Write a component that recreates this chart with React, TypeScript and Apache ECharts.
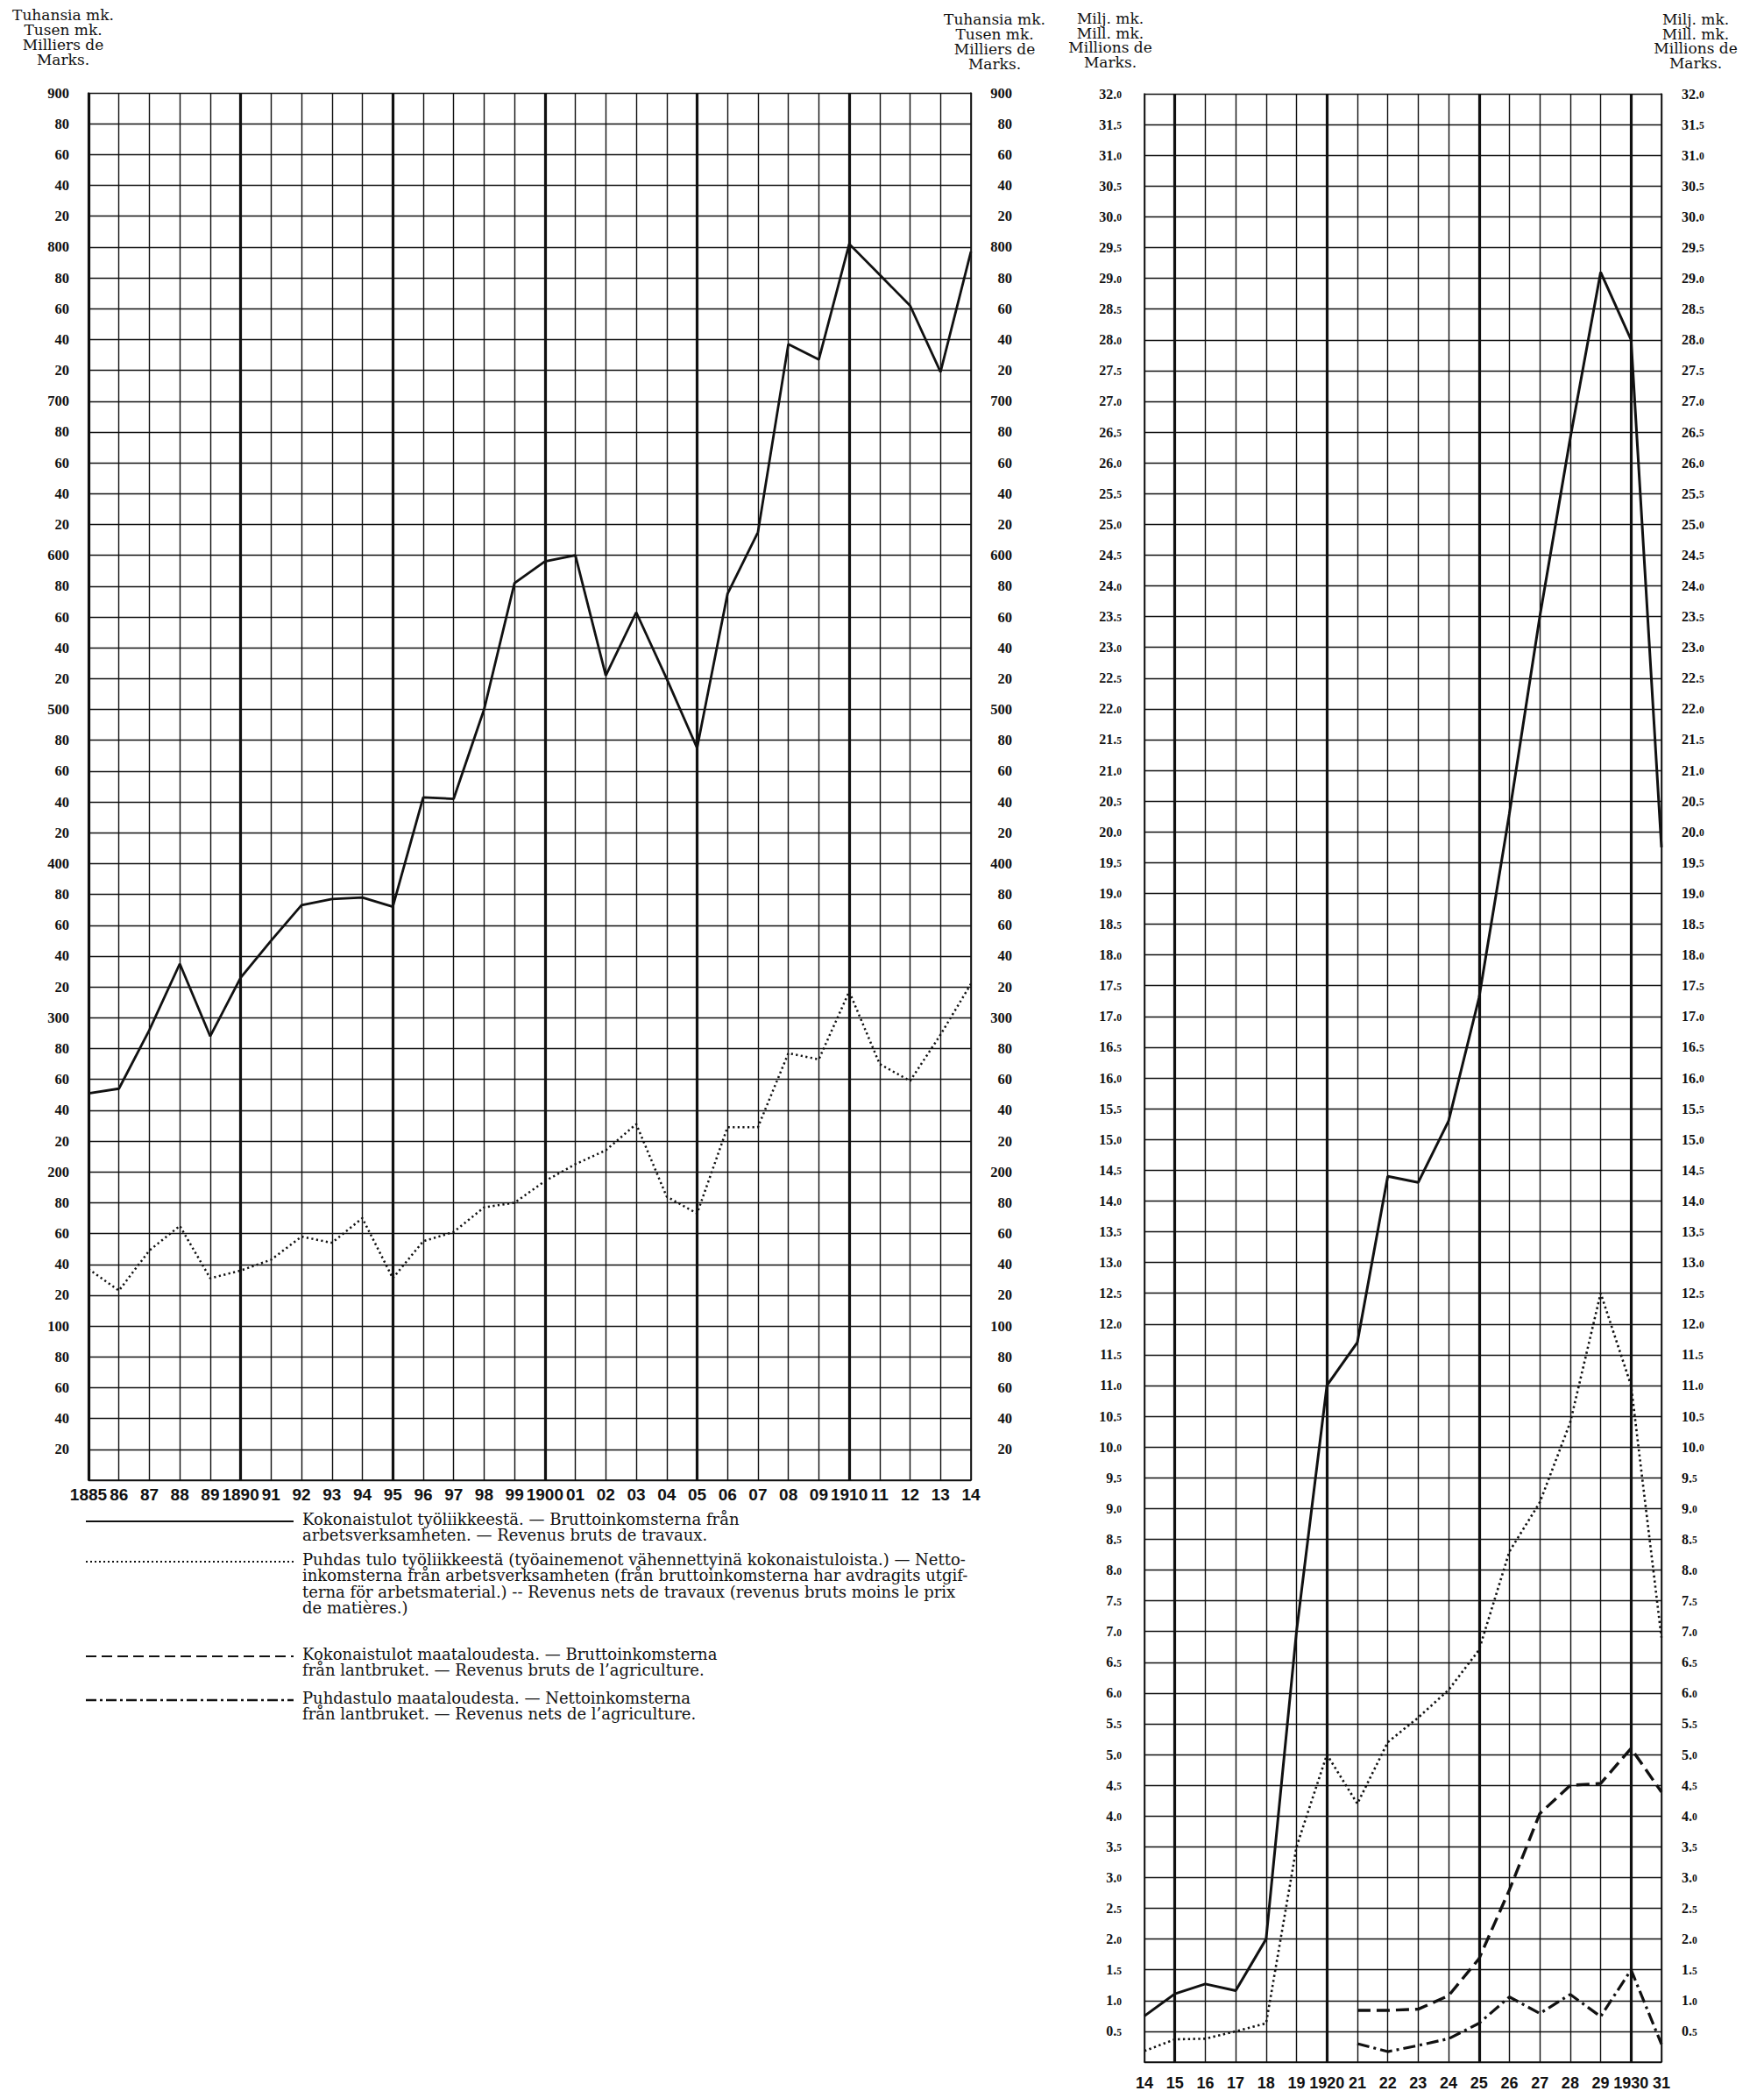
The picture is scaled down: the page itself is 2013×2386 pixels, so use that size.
import React, { useEffect, useRef } from 'react';
import * as echarts from 'echarts';

// ---------- data ----------
const leftYears = [1885, 1886, 1887, 1888, 1889, 1890, 1891, 1892, 1893, 1894, 1895, 1896, 1897, 1898, 1899, 1900, 1901, 1902, 1903, 1904, 1905, 1906, 1907, 1908, 1909, 1910, 1911, 1912, 1913, 1914];
const leftXLabels = ['1885', '86', '87', '88', '89', '1890', '91', '92', '93', '94', '95', '96', '97', '98', '99', '1900', '01', '02', '03', '04', '05', '06', '07', '08', '09', '1910', '11', '12', '13', '14'];
// thousands of marks
const grossWorkLeft = [251, 254, 292, 335, 288, 326, 350, 373, 377, 378, 372, 443, 442, 500, 582, 596, 600, 522, 563, 520, 475, 575, 615, 737, 727, 802, 782, 762, 719, 797];
const netWorkLeft = [137, 123, 149, 165, 131, 136, 143, 158, 154, 170, 131, 155, 161, 177, 180, 194, 205, 214, 231, 184, 173, 229, 229, 277, 273, 317, 270, 259, 289, 322];

const rightYears = [1914, 1915, 1916, 1917, 1918, 1919, 1920, 1921, 1922, 1923, 1924, 1925, 1926, 1927, 1928, 1929, 1930, 1931];
const rightXLabels = ['14', '15', '16', '17', '18', '19', '1920', '21', '22', '23', '24', '25', '26', '27', '28', '29', '1930', '31'];
// millions of marks
const grossWorkRight = [0.75, 1.11, 1.27, 1.16, 2.0, 7.0, 11.0, 11.7, 14.4, 14.3, 15.3, 17.3, 20.3, 23.5, 26.4, 29.1, 28.0, 19.75];
const netWorkRight = [0.18, 0.37, 0.38, 0.5, 0.63, 3.5, 5.0, 4.2, 5.2, 5.6, 6.05, 6.7, 8.3, 9.1, 10.4, 12.5, 11.0, 6.9];
const agriYears = [1921, 1922, 1923, 1924, 1925, 1926, 1927, 1928, 1929, 1930, 1931];
const grossAgri = [0.84, 0.84, 0.86, 1.08, 1.68, 2.8, 4.04, 4.5, 4.53, 5.1, 4.39];
const netAgri = [0.3, 0.17, 0.27, 0.38, 0.63, 1.06, 0.79, 1.1, 0.74, 1.5, 0.29];

const thickLeft = [1885, 1890, 1895, 1900, 1905, 1910];
const thickRight = [1915, 1920, 1925, 1930];

const unitLeft = 'Tuhansia mk.\nTusen mk.\nMilliers de\nMarks.';
const unitRight = 'Milj. mk.\nMill. mk.\nMillions de\nMarks.';

const legendTexts = [
  'Kokonaistulot työliikkeestä. — Bruttoinkomsterna från\narbetsverksamheten. — Revenus bruts de travaux.',
  'Puhdas tulo työliikkeestä (työainemenot vähennettyinä kokonaistuloista.) — Netto-\ninkomsterna från arbetsverksamheten (från bruttoinkomsterna har avdragits utgif-\nterna för arbetsmaterial.) -- Revenus nets de travaux (revenus bruts moins le prix\nde matières.)',
  'Kokonaistulot maataloudesta. — Bruttoinkomsterna\nfrån lantbruket. — Revenus bruts de l’agriculture.',
  'Puhdastulo maataloudesta. — Nettoinkomsterna\nfrån lantbruket. — Revenus nets de l’agriculture.',
];

// ---------- styles ----------
const INK = '#111';
const SERIF = '"DejaVu Serif", "Liberation Serif", serif';
const LBLSERIF = '"Liberation Serif", "DejaVu Serif", serif';
const NARROW = '"Liberation Sans Narrow", "Liberation Sans", sans-serif';

const pairs = (xs: number[], ys: number[]) => xs.map((x, i) => [x, ys[i]]);

const leftY = (v: number) => (v === 0 ? '' : v % 100 === 0 ? String(v) : String(v % 100));
const rightY = (v: number) => {
  if (v === 0) return '';
  const t = Math.round(v * 10);
  return `{a|${Math.floor(t / 10)}.}{b|${t % 10}}`;
};

export default function App() {
  const ref = useRef<HTMLDivElement>(null);
  useEffect(() => {
    document.body.style.margin = '0';
    const chart = echarts.init(ref.current!, undefined, { renderer: 'svg' });

    const gridLine = { show: true, lineStyle: { color: INK, width: 1.4 } };
    const axisLine = { show: true, lineStyle: { color: INK, width: 1.6 } };
    const richR = {
      a: { fontFamily: LBLSERIF, fontWeight: 'bold', fontSize: 16, color: INK },
      b: { fontFamily: LBLSERIF, fontWeight: 'bold', fontSize: 11.5, color: INK, verticalAlign: 'bottom', padding: [0, 0, 1, 0] },
    };
    const thick = (xs: number[]) => ({
      silent: true,
      symbol: ['none', 'none'],
      label: { show: false },
      emphasis: { disabled: true },
      lineStyle: { color: INK, width: 3.2, type: 'solid' },
      data: xs.map((x) => ({ xAxis: x })),
    });

    const legendFont = `18px ${SERIF}`;
    const option: any = {
      animation: false,
      backgroundColor: '#fff',
      grid: [
        { left: 101, top: 106, width: 1007, height: 1583 },
        { left: 1306, top: 107, width: 590, height: 2250 },
      ],
      xAxis: [
        {
          gridIndex: 0, type: 'value', min: 1885, max: 1914, interval: 1,
          axisLine, axisTick: { show: false }, splitLine: gridLine,
          axisLabel: {
            margin: 7, color: INK, fontFamily: NARROW, fontWeight: 'bold', fontSize: 19,
            formatter: (v: number) => leftXLabels[leftYears.indexOf(v)] ?? '',
          },
        },
        {
          gridIndex: 1, type: 'value', min: 1914, max: 1931, interval: 1,
          axisLine, axisTick: { show: false }, splitLine: gridLine,
          axisLabel: {
            margin: 15, color: INK, fontFamily: NARROW, fontWeight: 'bold', fontSize: 18,
            formatter: (v: number) => rightXLabels[rightYears.indexOf(v)] ?? '',
          },
        },
      ],
      yAxis: [
        {
          gridIndex: 0, type: 'value', position: 'left', min: 0, max: 900, interval: 20,
          axisLine, axisTick: { show: false }, splitLine: gridLine,
          axisLabel: { margin: 22, color: INK, fontFamily: LBLSERIF, fontWeight: 'bold', fontSize: 16.5, formatter: leftY },
        },
        {
          gridIndex: 0, type: 'value', position: 'right', min: 0, max: 900, interval: 20,
          axisLine, axisTick: { show: false }, splitLine: { show: false },
          axisLabel: { margin: 47, align: 'right', color: INK, fontFamily: LBLSERIF, fontWeight: 'bold', fontSize: 16.5, formatter: leftY },
        },
        {
          gridIndex: 1, type: 'value', position: 'left', min: 0, max: 32, interval: 0.5,
          axisLine, axisTick: { show: false }, splitLine: gridLine,
          axisLabel: { margin: 26, formatter: rightY, rich: richR },
        },
        {
          gridIndex: 1, type: 'value', position: 'right', min: 0, max: 32, interval: 0.5,
          axisLine, axisTick: { show: false }, splitLine: { show: false },
          axisLabel: { margin: 23, formatter: rightY, rich: richR },
        },
      ],
      series: [
        {
          type: 'line', xAxisIndex: 0, yAxisIndex: 0, data: pairs(leftYears, grossWorkLeft),
          symbol: 'none', lineStyle: { color: INK, width: 2.8 }, markLine: thick(thickLeft), z: 5,
        },
        {
          type: 'line', xAxisIndex: 0, yAxisIndex: 0, data: pairs(leftYears, netWorkLeft),
          symbol: 'none', lineStyle: { color: INK, width: 2.5, type: [2.2, 3.4] }, z: 5,
        },
        {
          type: 'line', xAxisIndex: 1, yAxisIndex: 2, data: pairs(rightYears, grossWorkRight),
          symbol: 'none', lineStyle: { color: INK, width: 3 }, markLine: thick(thickRight), z: 5,
        },
        {
          type: 'line', xAxisIndex: 1, yAxisIndex: 2, data: pairs(rightYears, netWorkRight),
          symbol: 'none', lineStyle: { color: INK, width: 2.6, type: [2.4, 3.4] }, z: 5,
        },
        {
          type: 'line', xAxisIndex: 1, yAxisIndex: 2, data: pairs(agriYears, grossAgri),
          symbol: 'none', lineStyle: { color: INK, width: 3.4, type: [15, 7] }, z: 5,
        },
        {
          type: 'line', xAxisIndex: 1, yAxisIndex: 2, data: pairs(agriYears, netAgri),
          symbol: 'none', lineStyle: { color: INK, width: 3.2, type: [14, 5, 3, 5] }, z: 5,
        },
      ],
      graphic: [
        { type: 'text', x: 72, y: 8, style: { text: unitLeft, fill: INK, font: `17px ${SERIF}`, textAlign: 'center', lineHeight: 17 } },
        { type: 'text', x: 1135, y: 13, style: { text: unitLeft, fill: INK, font: `17px ${SERIF}`, textAlign: 'center', lineHeight: 17 } },
        { type: 'text', x: 1267, y: 13, style: { text: unitRight, fill: INK, font: `17px ${SERIF}`, textAlign: 'center', lineHeight: 16.5 } },
        { type: 'text', x: 1935, y: 14, style: { text: unitRight, fill: INK, font: `17px ${SERIF}`, textAlign: 'center', lineHeight: 16.5 } },
        // legend samples
        { type: 'line', shape: { x1: 98, y1: 1736, x2: 335, y2: 1736 }, style: { stroke: INK, lineWidth: 2.2 } },
        { type: 'line', shape: { x1: 98, y1: 1782, x2: 335, y2: 1782 }, style: { stroke: INK, lineWidth: 2, lineDash: [2, 3] } },
        { type: 'line', shape: { x1: 98, y1: 1890, x2: 335, y2: 1890 }, style: { stroke: INK, lineWidth: 2.2, lineDash: [12, 6] } },
        { type: 'line', shape: { x1: 98, y1: 1940, x2: 335, y2: 1940 }, style: { stroke: INK, lineWidth: 2.4, lineDash: [12, 4, 3, 4] } },
        // legend texts
        { type: 'text', x: 345, y: 1724, style: { text: legendTexts[0], fill: INK, font: legendFont, lineHeight: 18.5 } },
        { type: 'text', x: 345, y: 1770, style: { text: legendTexts[1], fill: INK, font: legendFont, lineHeight: 18.5 } },
        { type: 'text', x: 345, y: 1878, style: { text: legendTexts[2], fill: INK, font: legendFont, lineHeight: 18.5 } },
        { type: 'text', x: 345, y: 1928, style: { text: legendTexts[3], fill: INK, font: legendFont, lineHeight: 18.5 } },
      ],
    };
    chart.setOption(option);
    return () => chart.dispose();
  }, []);
  return <div ref={ref} style={{ width: 2013, height: 2386 }} />;
}
